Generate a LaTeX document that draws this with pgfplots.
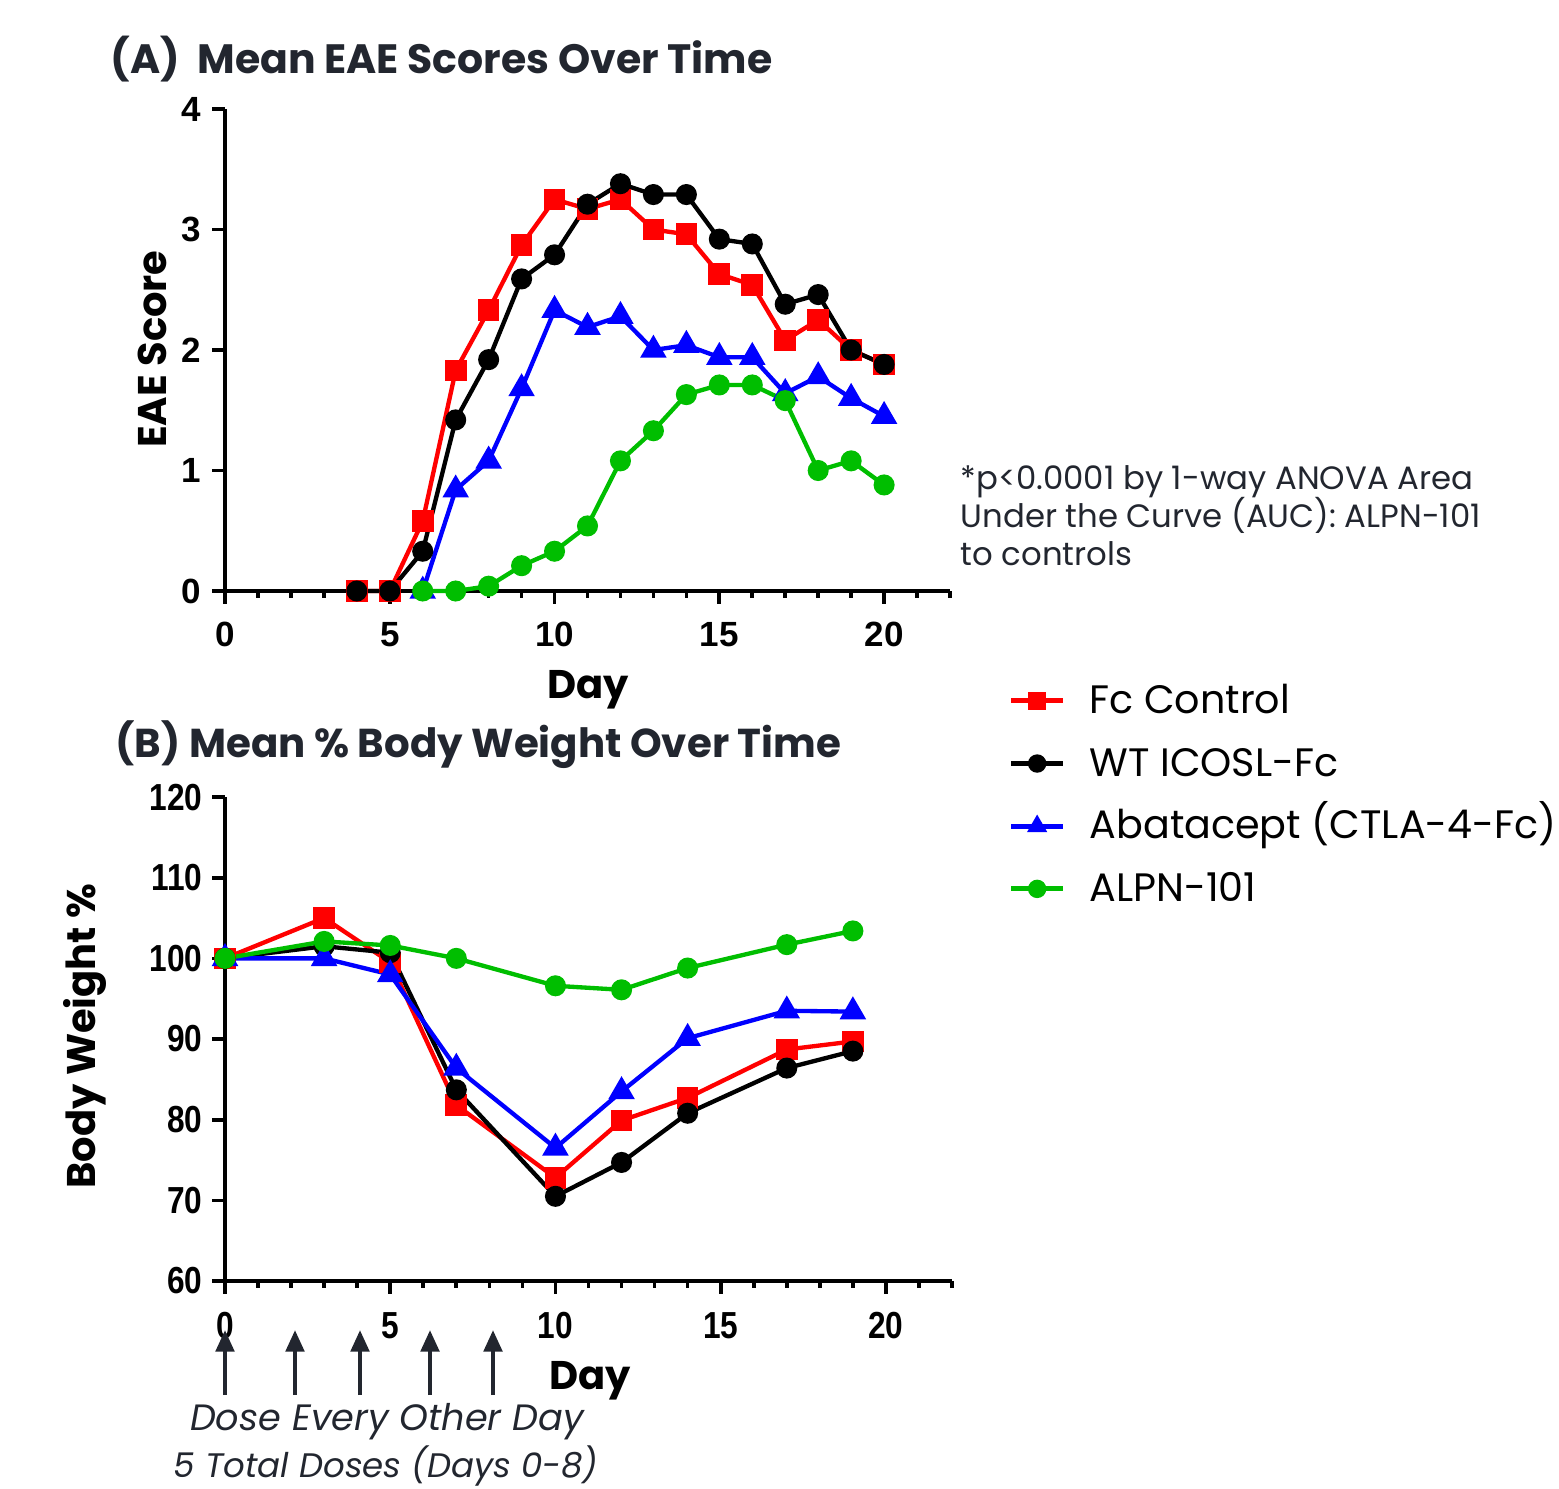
\documentclass[border=0pt]{standalone}
\usepackage{fontspec}
\setmainfont{Poppins}
\newfontfamily\tickfont{Liberation Sans}
\usepackage{pgfplots}
\pgfplotsset{compat=1.18}
\usetikzlibrary{arrows.meta}
\definecolor{cred}{HTML}{FF0000}
\definecolor{cblue}{HTML}{0000FF}
\definecolor{cgreen}{HTML}{00BE00}
\definecolor{cdark}{HTML}{22262F}

\pgfplotstableread{
day fc wt aba alpn
4 0 0 nan nan
5 0 0 nan nan
6 0.58 0.33 0 0
7 1.83 1.42 0.84 0
8 2.33 1.92 1.08 0.04
9 2.87 2.59 1.68 0.21
10 3.25 2.79 2.33 0.33
11 3.17 3.21 2.19 0.54
12 3.25 3.38 2.28 1.08
13 3.00 3.29 2.00 1.33
14 2.96 3.29 2.04 1.63
15 2.63 2.92 1.94 1.71
16 2.54 2.88 1.94 1.71
17 2.08 2.38 1.64 1.58
18 2.25 2.46 1.78 1.00
19 2.00 2.00 1.60 1.08
20 1.88 1.88 1.45 0.88
}\eaedata

\pgfplotstableread{
day fc wt aba alpn
0 100 100 100 100
3 105.0 101.5 100.0 102.1
5 99.5 100.7 98.0 101.6
7 81.8 83.7 86.4 100.0
10 72.8 70.5 76.5 96.6
12 79.9 74.7 83.5 96.1
14 82.7 80.8 90.1 98.8
17 88.7 86.4 93.5 101.7
19 89.7 88.5 93.4 103.4
}\bwdata

\pgfplotsset{
  gp/.style={
    scale only axis,
    axis x line=bottom, axis y line=left,
    axis line style={line width=1.3pt,-},
    xmin=0, xmax=22,
    xtick={0,5,10,15,20},
    minor xtick={1,2,3,4,6,7,8,9,11,12,13,14,16,17,18,19,21,22},
    tick style={line width=1.1pt, black},
    major tick length=3.8pt, minor tick length=2pt,
    tick align=outside,
    clip=false,
    /pgf/number format/assume math mode=true,
    every axis plot/.append style={line width=1.3pt},
  },
  sfc/.style={color=cred, mark=square*, mark size=2.6pt},
  swt/.style={color=black, mark=*, mark size=2.5pt},
  saba/.style={color=cblue, mark=triangle*, mark size=3.3pt},
  salpn/.style={color=cgreen, mark=*, mark size=2.5pt},
}

\begin{document}
\begin{tikzpicture}
\path[use as bounding box] (0,0) rectangle (467.7pt,-446.4pt);

% Panel A
\begin{axis}[gp,
  at={(67.5pt,-177.3pt)}, anchor=south west,
  width=217.5pt, height=144.6pt,
  ymin=0, ymax=4, ytick={0,1,2,3,4},
  ticklabel style={font=\tickfont\bfseries\fontsize{10.5}{12}\selectfont},
  xticklabel style={yshift=-2pt},
]
\addplot[sfc] table[x=day,y=fc]{\eaedata};
\addplot[swt] table[x=day,y=wt]{\eaedata};
\addplot[saba] table[x=day,y=aba]{\eaedata};
\addplot[salpn] table[x=day,y=alpn]{\eaedata};
\end{axis}

% Panel B
\begin{axis}[gp,
  at={(67.5pt,-384.3pt)}, anchor=south west,
  width=218.1pt, height=145.2pt,
  ymin=60, ymax=120, ytick={60,70,80,90,100,110,120},
  ticklabel style={font=\tickfont\bfseries\fontsize{11.3}{13}\selectfont, xscale=0.84},
  xticklabel style={yshift=-2pt},
  legend style={at={(1.077,1.25)}, anchor=north west, draw=none, fill=none,
    font=\fontsize{11.9}{14}\selectfont, row sep=4.3pt, inner sep=0pt,
    /tikz/every odd column/.append style={column sep=5.2pt},
    /tikz/every even column/.append style={text height=9pt, text depth=2.5pt}},
  legend cell align=left,
  legend image code/.code={\draw[mark repeat=2,mark phase=2,#1,mark size=2pt,line width=1.5pt] plot coordinates {(0pt,0pt)(7.8pt,0pt)(15.6pt,0pt)};},
]
\addplot[sfc] table[x=day,y=fc]{\bwdata};
\addlegendentry{Fc Control}
\addplot[swt] table[x=day,y=wt]{\bwdata};
\addlegendentry{WT ICOSL-Fc}
\addplot[saba] table[x=day,y=aba]{\bwdata};
\addlegendentry{Abatacept (CTLA-4-Fc)}
\addplot[salpn] table[x=day,y=alpn]{\bwdata};
\addlegendentry{ALPN-101}
\end{axis}

\begin{scope}[x=0.3pt,y=-0.3pt]
% titles
\node[anchor=base west, text=cdark, font=\bfseries\fontsize{12.3}{15}\selectfont, inner sep=0pt] at (110,74) {(A)\ \ Mean EAE Scores Over Time};
\node[anchor=base west, text=cdark, font=\bfseries\fontsize{12.1}{15}\selectfont, inner sep=0pt] at (115,757) {(B) Mean \% Body Weight Over Time};
% axis labels
\node[rotate=90, font=\bfseries\fontsize{12}{14}\selectfont, inner sep=0pt] at (152,349) {EAE Score};
\node[font=\bfseries\fontsize{12}{14}\selectfont, inner sep=0pt] at (588,690) {Day};
\node[rotate=90, font=\bfseries\fontsize{12}{14}\selectfont, inner sep=0pt] at (85,1036) {Body Weight \%};
\node[font=\bfseries\fontsize{12}{14}\selectfont, inner sep=0pt] at (590,1381) {Day};
% annotation
\node[anchor=base west, text=cdark, font=\fontsize{9.7}{11}\selectfont, inner sep=0pt] at (960,489) {*p<0.0001 by 1-way ANOVA Area};
\node[anchor=base west, text=cdark, font=\fontsize{9.7}{11}\selectfont, inner sep=0pt] at (960,527) {Under the Curve (AUC): ALPN-101};
\node[anchor=base west, text=cdark, font=\fontsize{9.7}{11}\selectfont, inner sep=0pt] at (960,565) {to controls};
% dose arrows
\foreach \xx in {225,295,360,430,493}{
  \draw[cdark, line width=1.3pt, -{Triangle[length=6.5pt,width=5.5pt]}] (\xx,1395) -- (\xx,1330);
}
\node[text=cdark, font=\itshape\fontsize{11}{13}\selectfont, inner sep=0pt] at (387,1422) {Dose Every Other Day};
\node[text=cdark, font=\itshape\fontsize{10.2}{13}\selectfont, inner sep=0pt] at (386,1466) {5 Total Doses (Days 0-8)};
\end{scope}
\end{tikzpicture}
\end{document}
